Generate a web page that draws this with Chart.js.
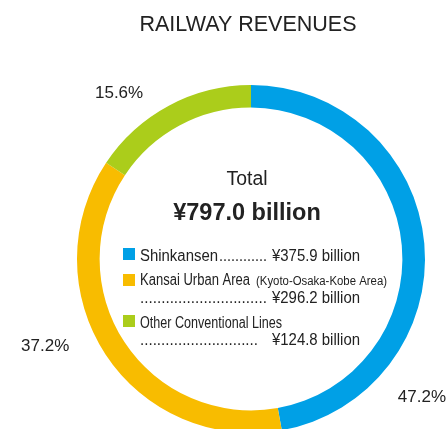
<!DOCTYPE html>
<html>
<head>
<meta charset="utf-8">
<script src="https://cdn.jsdelivr.net/npm/chart.js@4.4.1/dist/chart.umd.min.js"></script>
<style>
  html, body { margin: 0; padding: 0; background: #fff; overflow: hidden; }
  #wrap { width: 447px; height: 445px; }
</style>
</head>
<body>
<div id="wrap"><canvas id="revChart"></canvas></div>
<script>
const title = "RAILWAY REVENUES";
const categories = ["Shinkansen", "Kansai Urban Area", "Other Conventional Lines"];
const subNotes = ["", "(Kyoto-Osaka-Kobe Area)", ""];
const revenues = [375.9, 296.2, 124.8];   // ¥ billion
const shares = [47.2, 37.2, 15.6];        // % as printed
const totalRevenue = 797.0;
const colors = ["#00a0e6", "#f8bc00", "#abcd1b"];

const FONT = '"Liberation Sans", Arial, sans-serif';

// where the % labels sit: angle (deg, canvas) and distance as multiple of outer radius
const labelSpots = [
  { angle: 39, dist: 1.264 },
  { angle: 157, dist: 1.285 },
  { angle: -128.5, dist: 1.218 }
];

const yen = (v) => '¥' + v.toFixed(1) + ' billion';

const textPlugin = {
  id: 'donutText',
  afterDraw(chart) {
    const ctx = chart.ctx;
    const arcs = chart.getDatasetMeta(0).data;
    const cx = arcs[0].x, cy = arcs[0].y, r = arcs[0].outerRadius;

    ctx.save();
    ctx.fillStyle = '#222';

    // title
    ctx.textAlign = 'center';
    ctx.textBaseline = 'alphabetic';
    ctx.font = '21.5px ' + FONT;
    ctx.fillText(title, cx - 3, 31);

    // total in the middle
    ctx.font = '20px ' + FONT;
    ctx.fillText('Total', cx - 4, cy - 74, 41);
    ctx.font = 'bold 23.5px ' + FONT;
    ctx.fillText(yen(totalRevenue), cx - 4, cy - 39, 150);

    // percentage labels outside the ring
    ctx.textBaseline = 'middle';
    ctx.font = '17px ' + FONT;
    shares.forEach((s, i) => {
      const a = labelSpots[i].angle * Math.PI / 180;
      const d = labelSpots[i].dist * r;
      ctx.fillText(s.toFixed(1) + '%', cx + Math.cos(a) * d, cy + Math.sin(a) * d);
    });

    // legend block (text squeezed to look like the condensed original)
    ctx.textBaseline = 'alphabetic';
    const sqX = 123, txtX = 140, valX = 360;
    const main = '16px ' + FONT;
    const rows = [
      { sq: 248, base: 261, labelW: 78, dots: 12, dotX: 219, dotW: 48, valBase: 261 },
      { sq: 274, base: 285, labelW: 110, dots: 30, dotX: 140, dotW: 127, valBase: 303 },
      { sq: 315, base: 328, labelW: 142, dots: 28, dotX: 140, dotW: 118, valBase: 345 }
    ];
    rows.forEach((row, i) => {
      ctx.fillStyle = colors[i];
      ctx.fillRect(sqX, row.sq, 12, 12);
      ctx.fillStyle = '#222';
      ctx.textAlign = 'left';
      ctx.font = main;
      ctx.fillText(categories[i], txtX, row.base, row.labelW);
      if (subNotes[i]) {
        ctx.font = '12.5px ' + FONT;
        ctx.fillText(subNotes[i], 256, row.base, 131);
        ctx.font = main;
      }
      ctx.fillText('.'.repeat(row.dots), row.dotX, row.valBase, row.dotW);
      ctx.textAlign = 'right';
      ctx.fillText(yen(revenues[i]), valX, row.valBase, 88);
    });

    ctx.restore();
  }
};

new Chart(document.getElementById('revChart'), {
  type: 'doughnut',
  data: {
    labels: categories,
    datasets: [{
      data: revenues,
      backgroundColor: colors,
      borderWidth: 0
    }]
  },
  options: {
    responsive: true,
    maintainAspectRatio: false,
    animation: false,
    cutout: '87%',
    layout: { padding: { left: 77, right: 22, top: 85, bottom: 12 } },
    plugins: {
      legend: { display: false },
      tooltip: { enabled: false }
    }
  },
  plugins: [textPlugin]
});
</script>
</body>
</html>
